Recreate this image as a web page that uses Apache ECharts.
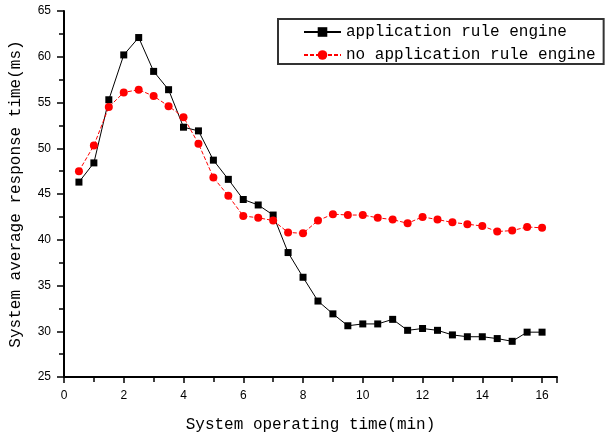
<!DOCTYPE html>
<html>
<head>
<meta charset="utf-8">
<script src="https://cdn.jsdelivr.net/npm/echarts@6/dist/echarts.min.js"></script>
<style>
  html, body { margin: 0; padding: 0; background: #fff; }
  #chart { width: 616px; height: 435px; }
</style>
</head>
<body>
<div id="chart"></div>
<script>
// Operating time in minutes (x values)
const times = [0.5, 1, 1.5, 2, 2.5, 3, 3.5, 4, 4.5, 5, 5.5, 6, 6.5, 7, 7.5, 8,
               8.5, 9, 9.5, 10, 10.5, 11, 11.5, 12, 12.5, 13, 13.5, 14, 14.5, 15, 15.5, 16];

// Average response time (ms) with the rule engine
const withEngine = [46.3, 48.4, 55.3, 60.2, 62.1, 58.4, 56.4, 52.3, 51.9, 48.7, 46.6, 44.4,
                    43.8, 42.7, 38.6, 35.9, 33.3, 31.9, 30.6, 30.8, 30.8, 31.3, 30.1, 30.3,
                    30.1, 29.6, 29.4, 29.4, 29.2, 28.9, 29.9, 29.9];

// Average response time (ms) without the rule engine
const withoutEngine = [47.5, 50.3, 54.5, 56.1, 56.4, 55.7, 54.6, 53.4, 50.5, 46.8, 44.8, 42.6,
                       42.4, 42.1, 40.8, 40.7, 42.1, 42.8, 42.7, 42.7, 42.4, 42.2, 41.8, 42.5,
                       42.2, 41.9, 41.7, 41.5, 40.9, 41.0, 41.4, 41.3];

const seriesNames = ['application rule engine', 'no application rule engine'];

const pairs = (ys) => times.map((t, i) => [t, ys[i]]);

const mono = 'Liberation Mono';
const chart = echarts.init(document.getElementById('chart'));

chart.setOption({
  backgroundColor: '#ffffff',
  animation: false,
  grid: { left: 64, right: 59, top: 11, bottom: 58, containLabel: false, outerBoundsMode: 'none' },
  legend: {
    orient: 'vertical',
    left: 278,
    top: 19,
    width: 327,
    padding: [5, 8, 1, 25],
    itemWidth: 37,
    itemHeight: 12,
    itemGap: 7,
    borderColor: '#333',
    borderWidth: 2,
    borderRadius: 0,
    textStyle: { fontFamily: mono, fontSize: 16, color: '#000' },
    data: seriesNames
  },
  xAxis: {
    type: 'value',
    min: 0,
    max: 16.5,
    interval: 2,
    name: 'System operating time(min)',
    nameLocation: 'middle',
    nameGap: 40,
    nameTextStyle: { fontFamily: mono, fontSize: 16, color: '#000' },
    axisLine: { lineStyle: { color: '#000', width: 2 } },
    axisTick: { show: true, inside: false, length: 6, lineStyle: { color: '#000', width: 1.5 } },
    minorTick: { show: true, splitNumber: 2, length: 5, lineStyle: { color: '#000', width: 1.5 } },
    axisLabel: {
      fontFamily: 'Liberation Sans', fontSize: 12, color: '#000', margin: 13,
      showMaxLabel: false,
      formatter: (v) => (v % 2 === 0 ? String(v) : '')
    },
    splitLine: { show: false }
  },
  yAxis: {
    type: 'value',
    min: 25,
    max: 65,
    interval: 5,
    name: 'System average response time(ms)',
    nameLocation: 'middle',
    nameGap: 40,
    nameTextStyle: { fontFamily: mono, fontSize: 16, color: '#000' },
    axisLine: { show: true, lineStyle: { color: '#000', width: 2 } },
    axisTick: { show: true, inside: false, length: 7, lineStyle: { color: '#000', width: 1.5 } },
    minorTick: { show: true, splitNumber: 2, length: 5, lineStyle: { color: '#000', width: 1.5 } },
    axisLabel: { fontFamily: 'Liberation Sans', fontSize: 12, color: '#000', margin: 13 },
    splitLine: { show: false }
  },
  series: [
    {
      name: seriesNames[0],
      type: 'line',
      data: pairs(withEngine),
      symbol: 'rect',
      symbolSize: 7,
      itemStyle: { color: '#000' },
      lineStyle: { color: '#000', width: 1 }
    },
    {
      name: seriesNames[1],
      type: 'line',
      data: pairs(withoutEngine),
      symbol: 'circle',
      symbolSize: 8,
      itemStyle: { color: '#ff0000' },
      lineStyle: { color: '#ff0000', width: 1, type: [4, 2] }
    }
  ]
});
</script>
</body>
</html>
